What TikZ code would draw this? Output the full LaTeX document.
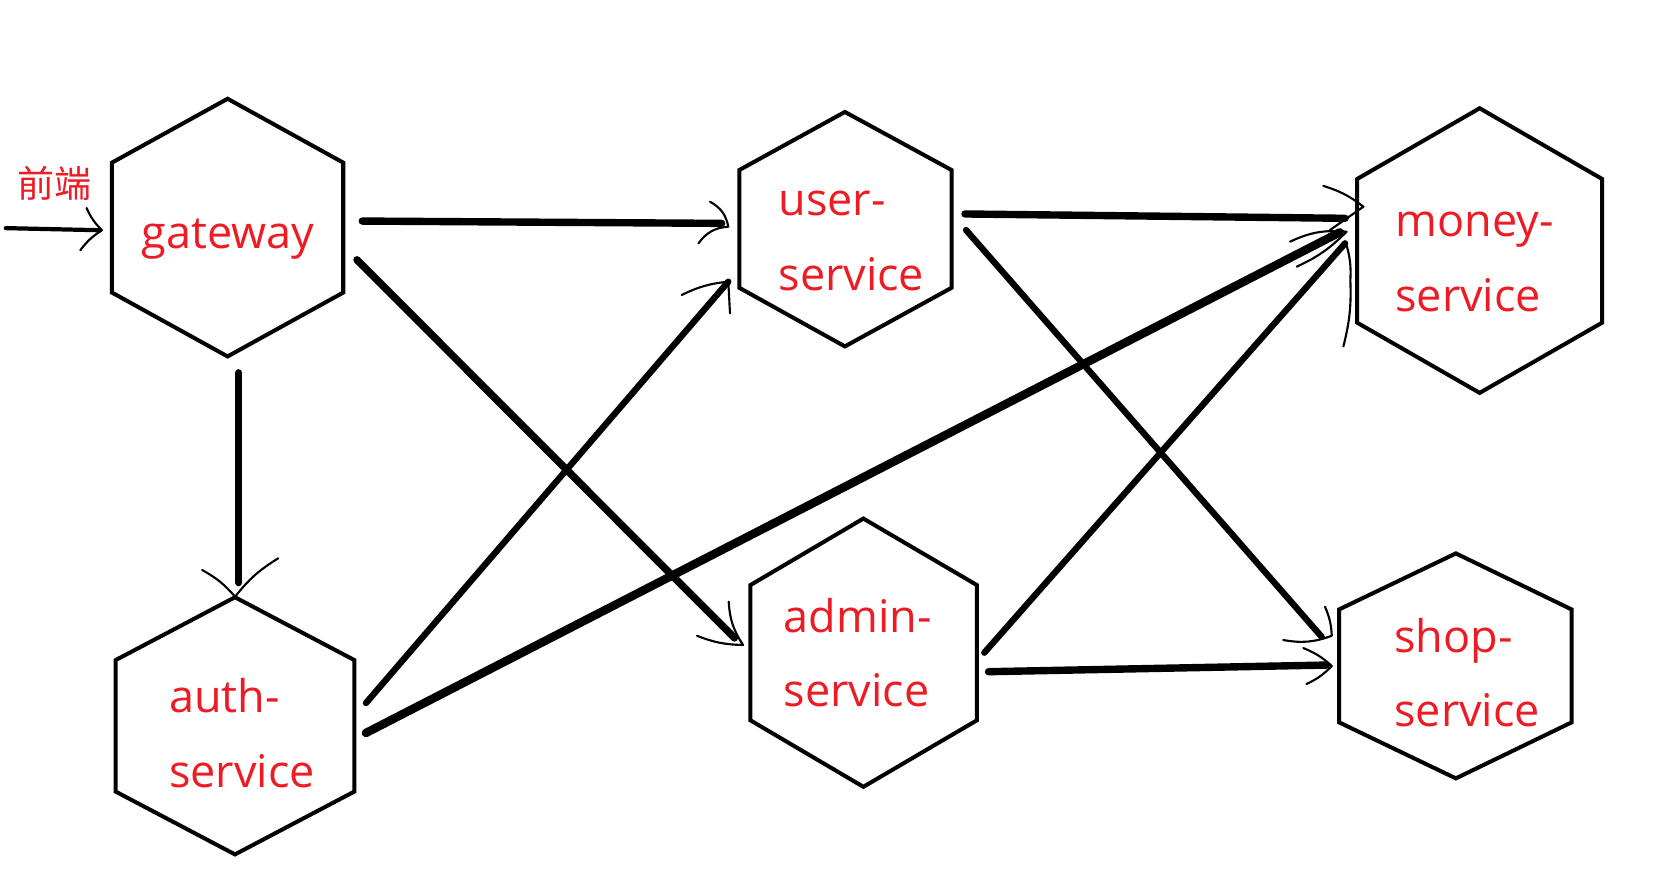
\documentclass[tikz,border=0pt]{standalone}
\usepackage{fontspec}
\newfontfamily\labfont{Open Sans}
\newfontfamily\cjkfont{Noto Sans CJK SC}
\definecolor{paintred}{RGB}{237,28,36}
\begin{document}
\begin{tikzpicture}[x=1pt,y=-1pt,
  hexa/.style={draw=black, line width=3.8pt, line join=miter},
  conn/.style={draw=black, line width=7pt, line cap=round},
  thinconn/.style={draw=black, line width=4pt, line cap=round},
  head/.style={draw=black, line width=2pt, line cap=round, line join=round},
  lab/.style={text=paintred, font=\labfont\fontsize{42.6}{50}\selectfont, anchor=base west, inner sep=0pt},
  cjklab/.style={text=paintred, font=\cjkfont\fontsize{35}{40}\selectfont, inner sep=0pt}]
\useasboundingbox[fill=white] (0,0) rectangle (1568,844);

% hexagons
\draw[hexa] (215.5,93.5) -- (325,154) -- (325,277) -- (215.5,337.5) -- (106,277) -- (106,154) -- cycle;
\draw[hexa] (800,106) -- (901,161) -- (901,272.5) -- (800,328) -- (700,272.5) -- (700,161) -- cycle;
\draw[hexa] (1401,102.5) -- (1517,169.5) -- (1517,305.5) -- (1401,372) -- (1285,305.5) -- (1285,169.5) -- cycle;
\draw[hexa] (222.5,565.5) -- (335.5,625) -- (335.5,749.5) -- (222.5,809) -- (109.5,749.5) -- (109.5,625) -- cycle;
\draw[hexa] (817.5,491) -- (925,554) -- (925,682) -- (817.5,745) -- (710.5,682) -- (710.5,554) -- cycle;
\draw[hexa] (1378.5,524) -- (1488,577) -- (1488,684) -- (1378.5,737) -- (1268,684) -- (1268,577) -- cycle;

% labels
\node[cjklab] (fe) at (52,174) {前端};
\node[lab] (gw) at (134,235) {gateway};
\node[lab] (us1) at (737,204.5) {user-};
\node[lab] (us2) at (737,274.6) {service};
\node[lab] (ms1) at (1321,223.5) {money-};
\node[lab] (ms2) at (1321,295) {service};
\node[lab] (au1) at (160,675) {auth-};
\node[lab] (au2) at (160,746) {service};
\node[lab] (ad1) at (742,599) {admin-};
\node[lab] (ad2) at (742,669) {service};
\node[lab] (sh1) at (1320,618) {shop-};
\node[lab] (sh2) at (1320,688) {service};

% connector end points
\coordinate (in0) at (5.5,216);
\coordinate (gwin) at (95,218);
\coordinate (gwU) at (343,209.3);
\coordinate (usL) at (683.3,211.5);
\coordinate (gwA) at (338,246);
\coordinate (adL) at (695.4,604);
\coordinate (gwD) at (226,353);
\coordinate (auT) at (226,551.7);
\coordinate (usR1) at (913.7,202.6);
\coordinate (msL1) at (1273.6,206.7);
\coordinate (usR2) at (914.7,217.8);
\coordinate (shL1) at (1251.5,603);
\coordinate (auR1) at (346.5,665.7);
\coordinate (usL2) at (689.6,266.7);
\coordinate (auR2) at (346.5,694);
\coordinate (msL2) at (1268.5,220);
\coordinate (adR1) at (932,618);
\coordinate (msL3) at (1273.6,230.4);
\coordinate (adR2) at (936,636);
\coordinate (shL2) at (1256,629.7);

% shafts
\draw[thinconn] (in0) -- (gwin);
\draw[conn] (gwU) -- (usL);
\draw[conn] (gwA) -- (adL);
\draw[conn] (gwD) -- (auT);
\draw[conn] (usR1) -- (msL1);
\draw[conn, line width=6pt] (usR2) -- (shL1);
\draw[conn, line width=6pt] (auR1) -- (usL2);
\draw[conn, line width=8pt] (auR2) -- (msL2);
\draw[conn, line width=6pt] (adR1) -- (msL3);
\draw[conn] (adR2) -- (shL2);

% hand-drawn heads
\draw[head] (gwin) +(-13,-21) to[bend right=10] +(1.5,0) to[bend right=10] +(-19,19);
\draw[head] (usL) +(-11,-20.5) to[bend left=25] +(6.3,3.1) to[bend right=25] +(-22,19);
\draw[head] (adL) +(-5.4,-34.3) to[bend right=15] +(8.2,6.7) to[bend left=10] +(-35.4,-2);
\draw[head] (auT) +(-34.6,-12) to[bend left=10] +(-3.4,13.3) to[bend left=10] +(37.5,-23.1);
\draw[head] (msL1) +(-20.6,-30.7) to[bend left=10] +(17.4,-11) -- +(-14.6,11.3);
\draw[head] (shL1) +(3.1,-28.5) to[bend left=10] +(9.5,-1) to[bend left=15] +(-36.5,3);
\draw[head] (usL2) +(-44.1,12.6) to[bend left=10] +(0,0) -- +(1.6,30);
\draw[head] (msL2) +(-47,8.8) to[bend left=15] +(6.5,-0.6) to[bend left=10] +(-40.7,32.5);
\draw[head] (msL3) +(0.4,-1.4) to[bend left=10] +(5,35) to[bend left=8] +(-1.6,97.6);
\draw[head] (shL2) +(-22,-16.1) to[bend left=10] +(5,0.9) to[bend left=10] +(-19,18);
\end{tikzpicture}
\end{document}
